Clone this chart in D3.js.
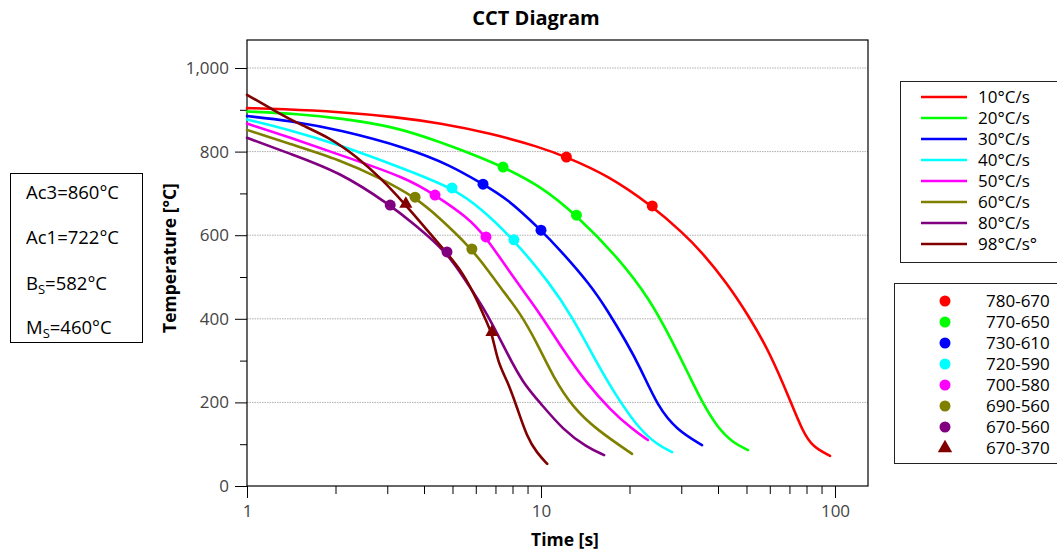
<!DOCTYPE html>
<html><head><meta charset="utf-8">
<script src="https://cdn.jsdelivr.net/npm/d3@7"></script>
<style>body{margin:0;background:#fff} text{font-family:"Open Sans","Noto Sans",sans-serif}</style>
</head><body><svg id="c" width="1057" height="550"></svg>
<script>
// ---- data ----
const rateLabels = ["10°C/s","20°C/s","30°C/s","40°C/s","50°C/s","60°C/s","80°C/s","98°C/s°"];
const rangeLabels = ["780-670","770-650","730-610","720-590","700-580","690-560","670-560","670-370"];
const yMajorTicks = [0,200,400,600,800,1000];
const yMinorTicks = [100,300,500,700,900];
const xMajorTicks = [1,10,100];
const xMinorTicks = [2,3,4,5,6,7,8,9,20,30,40,50,60,70,80,90];
const noteLines = [["Ac3=860°C"],["Ac1=722°C"],["B","S","=582°C"],["M","S","=460°C"]];

// cooling curves [time s, temperature °C]
const curve10 = [[1,904],[1.3,902],[2.07,895],[3.2,883],[4.53,868],[6.71,844],[9.9,811],[12.2,787],[16.8,744],[23.9,670],[30.4,605],[34.7,565],[42.9,486],[51.4,402],[60.1,318],[70.3,206],[77.8,129],[84.2,93],[96.2,72]];
const curve20 = [[1,896],[1.5,890],[2.07,880],[3.16,860],[4.5,824],[6.3,785],[7.43,763],[10,717],[13.2,648],[18.6,541],[23.5,445],[27.5,356],[32.1,261],[35.3,201],[39.7,141],[45,103],[50.6,86]];
const curve30 = [[1,885],[1.4,874],[2.07,852],[3.5,809],[4.9,768],[6.35,722],[7.66,688],[10,612],[11.6,565],[14.7,482],[16.8,421],[19.6,342],[21.7,285],[25,189],[29,134],[35.3,98]];
const curve40 = [[1,877],[1.4,852],[2.07,816],[3.5,756],[4.98,713],[6.2,667],[8.09,589],[10.7,486],[12.8,404],[15.5,294],[18.1,213],[21.7,134],[25,98],[27.9,81]];
const curve50 = [[1,867],[1.4,834],[2.07,792],[3.5,737],[4.36,696],[5.6,644],[6.5,596],[8.03,500],[9.9,414],[11.9,325],[14.3,246],[17.2,182],[20.6,134],[23.1,110]];
const curve60 = [[1,852],[1.4,818],[2.07,780],[2.83,737],[3.73,691],[4.53,641],[5.82,567],[6.7,510],[7.25,476],[8.5,414],[9.69,342],[11,261],[12.8,189],[15.5,134],[20.4,77]];
const curve80 = [[1,833],[1.4,795],[2.07,751],[3.07,672],[3.67,629],[4.79,560],[5.6,486],[6.55,414],[7.66,318],[8.69,246],[9.93,199],[11.9,134],[14.3,93],[16.4,74]];
const curve98 = [[1,936],[1.226,900],[1.48,868],[1.92,833],[2.37,787],[2.83,739],[3.47,672],[4.1,612],[4.79,557],[5.43,510],[6.06,445],[6.55,390],[6.81,366],[7.14,294],[7.66,254],[8.28,189],[8.96,117],[9.69,79],[10.5,53]];
const curves = [curve10,curve20,curve30,curve40,curve50,curve60,curve80,curve98];

// transformation start / finish points
const points10 = [[12.2,787],[23.9,670]];
const points20 = [[7.43,763],[13.2,648]];
const points30 = [[6.35,722],[10,612]];
const points40 = [[4.98,713],[8.09,589]];
const points50 = [[4.36,696],[6.5,596]];
const points60 = [[3.73,691],[5.82,567]];
const points80 = [[3.07,672],[4.79,560]];
const points98 = [[3.47,675],[6.81,368]];
const points = [points10,points20,points30,points40,points50,points60,points80,points98];

// ---- styles ----
const palette = ["#ff0000","#00ff00","#0000ff","#00ffff","#ff00ff","#808000","#800080","#800000"];

const svg = d3.select("#c");
const L = 247, R = 868, T = 40, B = 486;
const x = d3.scaleLog().domain([1, 129.5]).range([L, R]);
const y = d3.scaleLinear().domain([0, 1067]).range([B, T]);

// grid
svg.append("g").selectAll("line").data(yMajorTicks.filter(d => d > 0)).join("line")
  .attr("x1", L).attr("x2", R).attr("y1", d => y(d)).attr("y2", d => y(d))
  .attr("stroke", "#b0b0b0").attr("stroke-width", 1).attr("stroke-dasharray", "1.5,1");

// axes
function styleAxis(g) {
  g.select(".domain").remove();
  g.selectAll(".tick line").attr("stroke", "#000");
  g.selectAll(".tick text").attr("fill", "#444").style("font-size", "17px");
}
svg.append("g").attr("transform", `translate(${L},0)`)
  .call(d3.axisLeft(y).tickValues(yMajorTicks).tickSize(12).tickPadding(6).tickFormat(d3.format(",")))
  .call(styleAxis);
svg.append("g").attr("transform", `translate(${L},0)`)
  .call(d3.axisLeft(y).tickValues(yMinorTicks).tickSize(7).tickFormat(""))
  .call(styleAxis);
svg.append("g").attr("transform", `translate(0,${B})`)
  .call(d3.axisBottom(x).tickValues(xMajorTicks).tickSize(12).tickPadding(7).tickFormat(d3.format("d")))
  .call(styleAxis);
svg.append("g").attr("transform", `translate(0,${B})`)
  .call(d3.axisBottom(x).tickValues(xMinorTicks).tickSize(8).tickFormat(""))
  .call(styleAxis);

// frame
svg.append("rect").attr("x", L).attr("y", T).attr("width", R - L).attr("height", B - T)
  .attr("fill", "none").attr("stroke", "#000").attr("stroke-width", 1.2);

// curves
const line = d3.line().x(d => x(d[0])).y(d => y(d[1])).curve(d3.curveBasis);
curves.forEach((c, i) => {
  svg.append("path").datum(c).attr("d", line).attr("fill", "none")
    .attr("stroke", palette[i]).attr("stroke-width", 2.6).attr("stroke-linejoin", "round").attr("stroke-linecap", "round");
});
const tri = d3.symbol().type(d3.symbolTriangle).size(75);
points.forEach((p, i) => {
  if (i === 7) {
    svg.append("g").selectAll("path").data(p).join("path")
      .attr("d", tri).attr("transform", d => `translate(${x(d[0])},${y(d[1])})`).attr("fill", palette[i]);
  } else {
    svg.append("g").selectAll("circle").data(p).join("circle")
      .attr("cx", d => x(d[0])).attr("cy", d => y(d[1])).attr("r", 5.5).attr("fill", palette[i]);
  }
});

// titles
svg.append("text").attr("x", 536).attr("y", 25).attr("text-anchor", "middle")
  .style("font-size", "20px").style("font-weight", "bold").text("CCT Diagram");
svg.append("text").attr("x", 565).attr("y", 546).attr("text-anchor", "middle")
  .style("font-size", "17.5px").style("font-weight", "bold").text("Time [s]");
svg.append("text").attr("transform", "translate(176,258) rotate(-90)").attr("text-anchor", "middle")
  .style("font-size", "17.5px").style("font-weight", "bold").text("Temperature [°C]");

// notes box
svg.append("rect").attr("x", 10.5).attr("y", 173.5).attr("width", 132).attr("height", 169)
  .attr("fill", "#fff").attr("stroke", "#000").attr("stroke-width", 1);
const noteBase = [199, 244, 290, 334];
noteLines.forEach((parts, i) => {
  const t = svg.append("text").attr("x", 26).attr("y", noteBase[i]).style("font-size", "18.5px").attr("fill", "#000");
  if (parts.length === 1) t.text(parts[0]);
  else {
    t.append("tspan").text(parts[0]);
    t.append("tspan").attr("dy", 4).style("font-size", "13px").text(parts[1]);
    t.append("tspan").attr("dy", -4).text(parts[2]);
  }
});

// legend 1 (lines)
svg.append("rect").attr("x", 900.5).attr("y", 81.5).attr("width", 200).attr("height", 181)
  .attr("fill", "#fff").attr("stroke", "#222").attr("stroke-width", 1);
rateLabels.forEach((lab, i) => {
  const yy = 97 + i * 21;
  svg.append("line").attr("x1", 921).attr("x2", 967).attr("y1", yy).attr("y2", yy)
    .attr("stroke", palette[i]).attr("stroke-width", 2.6);
  svg.append("text").attr("x", 978).attr("y", yy + 6).style("font-size", "17px").attr("fill", "#000").text(lab);
});

// legend 2 (markers)
svg.append("rect").attr("x", 894.5).attr("y", 283.5).attr("width", 200).attr("height", 180)
  .attr("fill", "#fff").attr("stroke", "#222").attr("stroke-width", 1);
rangeLabels.forEach((lab, i) => {
  const yy = 301 + i * 21;
  if (i === 7) {
    svg.append("path").attr("d", d3.symbol().type(d3.symbolTriangle).size(90))
      .attr("transform", `translate(945,${yy})`).attr("fill", palette[i]);
  } else {
    svg.append("circle").attr("cx", 945).attr("cy", yy).attr("r", 5.5).attr("fill", palette[i]);
  }
  svg.append("text").attr("x", 986).attr("y", yy + 6).style("font-size", "17px").attr("fill", "#000").text(lab);
});
</script></body></html>
